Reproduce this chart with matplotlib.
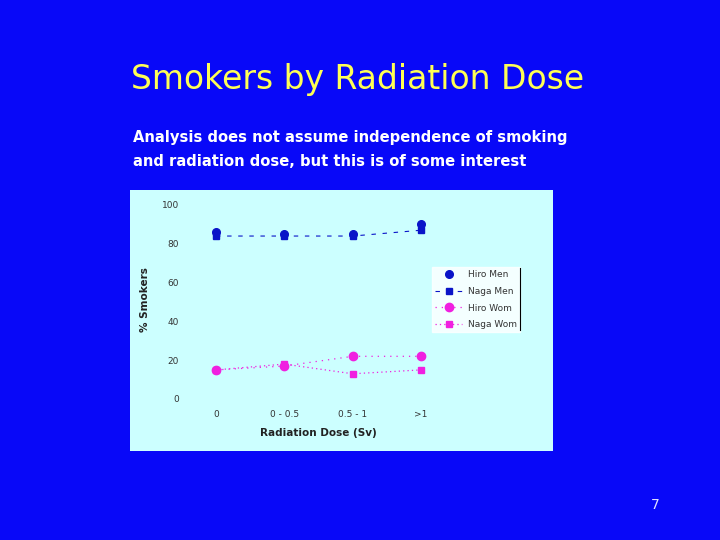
import matplotlib.pyplot as plt
from matplotlib.lines import Line2D

# Data
doses = ['0', '0 - 0.5', '0.5 - 1', '>1']
hiro_men = [86, 85, 85, 90]
naga_men = [84, 84, 84, 87]
hiro_wom = [15, 17, 22, 22]
naga_wom = [15, 18, 13, 15]
yticks = [0, 20, 40, 60, 80, 100]

W, H = 720, 540
fig = plt.figure(figsize=(7.2, 5.4), dpi=100)
fig.patch.set_facecolor('#0808F8')

def px(x0, y0, x1, y1):
    # pixel box (top-left origin) -> figure fraction rect
    return [x0 / W, 1 - y1 / H, (x1 - x0) / W, (y1 - y0) / H]

# slide title and text
fig.text(131 / W, 1 - 80 / H, 'Smokers by Radiation Dose', color='#FFFF55',
         fontsize=23.8, va='center', ha='left')
fig.text(133 / W, 1 - 137 / H, 'Analysis does not assume independence of smoking',
         color='white', fontsize=10.6, fontweight='bold', va='center', ha='left')
fig.text(133 / W, 1 - 162 / H, 'and radiation dose, but this is of some interest',
         color='white', fontsize=10.6, fontweight='bold', va='center', ha='left')
fig.text(655 / W, 1 - 505 / H, '7', color='#E0E0FF', fontsize=10, ha='center', va='center')

# light cyan chart panel
bg = fig.add_axes(px(130, 190, 553, 451), zorder=-1)
bg.set_facecolor('#CCFFFF')
bg.set_xticks([])
bg.set_yticks([])
for s in bg.spines.values():
    s.set_visible(False)

# plot axes: category 0 at x=216px, 3 at x=421px; y 0 at 399px, 100 at 205px
scale = (421 - 216) / 3
x0, x1 = 190, 440
ax = fig.add_axes(px(x0, 205, x1, 399))
ax.set_facecolor('none')
ax.set_xlim(-(216 - x0) / scale, 3 + (x1 - 421) / scale)
ax.set_ylim(0, 100)
xs = range(len(doses))

men_c = '#0A14C8'
wom_c = '#F020E0'
ax.plot(xs, hiro_men, linestyle='none', marker='o', ms=5.5, color=men_c,
        label='Hiro Men', clip_on=False)
ax.plot(xs, naga_men, linestyle=(0, (4, 6)), lw=0.8, marker='s', ms=5, color=men_c,
        label='Naga Men', clip_on=False)
ax.plot(xs, hiro_wom, linestyle=(0, (1, 4)), lw=0.9, marker='o', ms=6, color=wom_c,
        label='Hiro Wom', clip_on=False)
ax.plot(xs, naga_wom, linestyle=(0, (1, 2.5)), lw=0.9, marker='s', ms=5, color=wom_c,
        label='Naga Wom', clip_on=False)

for s in ax.spines.values():
    s.set_visible(False)
ax.set_xticks(list(xs))
ax.set_xticklabels(doses, fontsize=6.5, color='#333333')
ax.set_yticks(yticks)
ax.set_yticklabels([str(v) for v in yticks], fontsize=6.5, color='#333333')
ax.tick_params(length=0, pad=8)
ax.set_xlabel('Radiation Dose (Sv)', fontsize=7.5, fontweight='bold',
              color='#222222')
ax.set_ylabel('% Smokers', fontsize=7.5, fontweight='bold', color='#222222')
ax.xaxis.set_label_coords((318 - x0) / (x1 - x0), -(433 - 399) / (399 - 205))
ax.yaxis.set_label_coords(-(x0 - 145) / (x1 - x0), (399 - 300) / (399 - 205))
ax.xaxis.label.set_va('center')
ax.yaxis.label.set_va('center')

leg = ax.legend(loc='upper left', bbox_to_anchor=(432 / W, 1 - 267 / H),
                bbox_transform=fig.transFigure, fontsize=6.5, frameon=True,
                fancybox=False, borderaxespad=0, handlelength=3.0,
                labelspacing=0.85, borderpad=0.35, handletextpad=0.6)
leg.get_frame().set_facecolor('white')
leg.get_frame().set_edgecolor('white')
for t in leg.get_texts():
    t.set_color('#333333')

# thin black edge on the right side of the legend box
fig.add_artist(Line2D([520 / W, 520 / W], [1 - 268 / H, 1 - 330 / H],
                      transform=fig.transFigure, color='black', lw=0.8))

fig.savefig('out.png', dpi=100, facecolor=fig.get_facecolor())
